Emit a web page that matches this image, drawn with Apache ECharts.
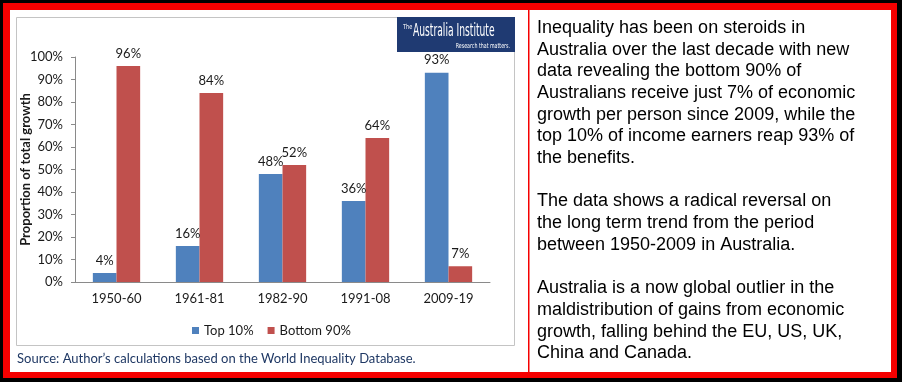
<!DOCTYPE html>
<html><head><meta charset="utf-8">
<script src="https://cdn.jsdelivr.net/npm/echarts@6/dist/echarts.min.js"></script>
<style>html,body{margin:0;padding:0;background:#000;}#c{width:902px;height:382px;}</style>
</head><body><div id="c"></div>
<script>
var categories = ['1950-60', '1961-81', '1982-90', '1991-08', '2009-19'];
var top10 = [4, 16, 48, 36, 93];
var bottom90 = [96, 84, 52, 64, 7];
var seriesNames = ['Top 10%', 'Bottom 90%'];
var yTicks = {min: 0, max: 100, interval: 10};
var yAxisTitle = 'Proportion of total growth';
var sourceText = 'Source: Author\u2019s calculations based on the World Inequality Database.';
var bodyText = [
  'Inequality has been on steroids in',
  'Australia over the last decade with new',
  'data revealing the bottom 90% of',
  'Australians receive just 7% of economic',
  'growth per person since 2009, while the',
  'top 10% of income earners reap 93% of',
  'the benefits.',
  '',
  'The data shows a radical reversal on',
  'the long term trend from the period',
  'between 1950-2009 in Australia.',
  '',
  'Australia is a now global outlier in the',
  'maldistribution of gains from economic',
  'growth, falling behind the EU, US, UK,',
  'China and Canada.'
];

var FONT = 'Lato, "Open Sans", sans-serif';
var chart = echarts.init(document.getElementById('c'), null, {renderer: 'canvas', width: 902, height: 382});
var labelStyle = {show: true, position: 'top', distance: 6, formatter: '{c}%', color: '#1a1a1a', fontSize: 13, fontFamily: FONT};
chart.setOption({
  backgroundColor: '#000',
  animation: false,
  graphic: [
    {type: 'rect', z: 0, shape: {x: 3, y: 3, width: 894, height: 375}, style: {fill: '#f50000'}},
    {type: 'rect', z: 0, shape: {x: 10, y: 10, width: 881, height: 362}, style: {fill: '#fff'}},
    {type: 'rect', z: 0, shape: {x: 528, y: 10, width: 1.5, height: 362}, style: {fill: '#f50000'}},
    {type: 'rect', z: 0, shape: {x: 16.5, y: 17.5, width: 498, height: 328}, style: {fill: 'none', stroke: '#c4c4c4', lineWidth: 1}},
    {type: 'rect', z: 1, shape: {x: 397, y: 17, width: 118, height: 35}, style: {fill: '#1f3a72'}},
    {type: 'text', z: 1, x: 403, y: 27, scaleX: 0.8, style: {text: 'The', fill: '#fff', font: '7px "DejaVu Sans Condensed", sans-serif', verticalAlign: 'middle'}},
    {type: 'text', z: 1, x: 413, y: 32, scaleX: 0.6, style: {text: 'Australia Institute', fill: '#fff', font: '17px "DejaVu Sans Condensed", sans-serif', verticalAlign: 'middle'}},
    {type: 'text', z: 1, x: 510, y: 46, scaleX: 0.75, style: {text: 'Research that matters.', fill: '#fff', font: '7px "DejaVu Sans Condensed", sans-serif', align: 'right', verticalAlign: 'middle'}},
    {type: 'text', z: 1, x: 17, y: 359, style: {text: sourceText, fill: '#1f3864', font: '13px ' + FONT, verticalAlign: 'middle'}},
    {type: 'text', z: 1, x: 537, y: 17, style: {text: bodyText.join('\n'), fill: '#000', font: '18px "Liberation Sans", Arial, sans-serif', lineHeight: 21.7, verticalAlign: 'top'}}
  ],
  grid: {left: 75, right: 412, top: 57, bottom: 100, containLabel: false},
  legend: {
    data: seriesNames, left: 187, top: 319, itemWidth: 7, itemHeight: 7, itemGap: 14, icon: 'rect',
    textStyle: {fontSize: 13, color: '#1a1a1a', fontFamily: FONT}
  },
  xAxis: {
    type: 'category', data: categories,
    axisLine: {lineStyle: {color: '#8a8a8a'}},
    axisTick: {length: 5, lineStyle: {color: '#8a8a8a'}},
    axisLabel: {color: '#1a1a1a', fontSize: 13, fontFamily: FONT, margin: 10}
  },
  yAxis: {
    type: 'value', min: yTicks.min, max: yTicks.max, interval: yTicks.interval,
    name: yAxisTitle, nameLocation: 'middle', nameGap: 43, nameRotate: 90, nameMoveOverlap: false,
    nameTextStyle: {fontWeight: 'bold', fontSize: 13, color: '#1a1a1a', fontFamily: FONT},
    axisLine: {show: true, lineStyle: {color: '#8a8a8a'}},
    axisTick: {show: true, length: 4, lineStyle: {color: '#8a8a8a'}},
    splitLine: {show: false},
    axisLabel: {formatter: '{value}%', color: '#1a1a1a', fontSize: 13, fontFamily: FONT, margin: 12}
  },
  series: [
    {name: seriesNames[0], type: 'bar', data: top10, barGap: '0%', barCategoryGap: '43%', itemStyle: {color: '#4f81bd'}, label: labelStyle},
    {name: seriesNames[1], type: 'bar', data: bottom90, itemStyle: {color: '#c0504d'}, label: labelStyle}
  ]
});
</script></body></html>
